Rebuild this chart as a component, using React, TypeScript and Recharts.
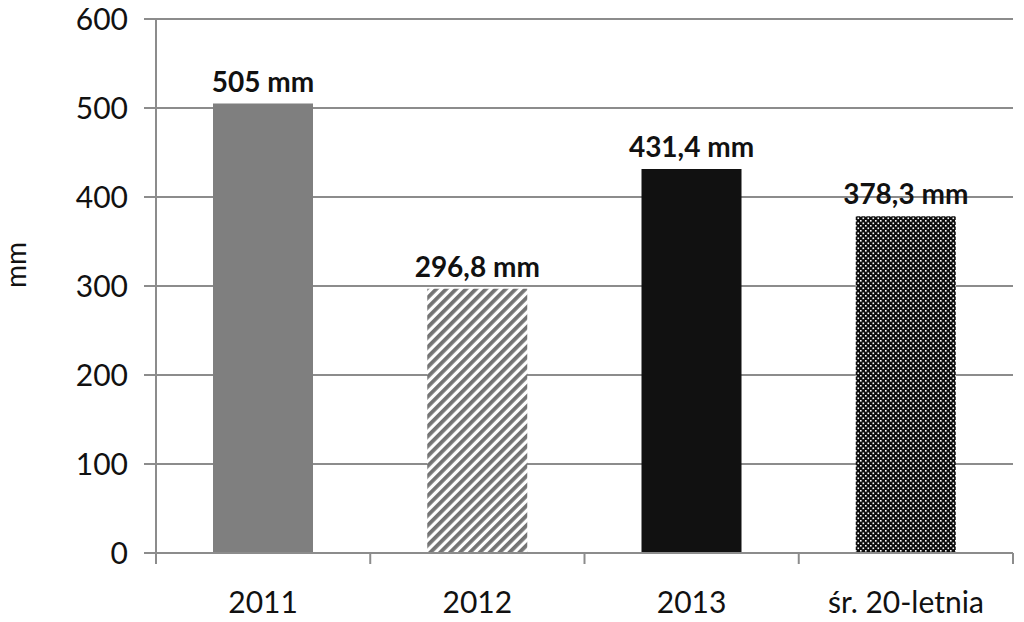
import React from 'react';
import { BarChart, Bar, XAxis, YAxis, CartesianGrid, Cell, LabelList } from 'recharts';

// Data
const categories = ['2011', '2012', '2013', 'śr. 20-letnia'];
const rainfall = [505, 296.8, 431.4, 378.3];
const yTicks = [0, 100, 200, 300, 400, 500, 600];

const barFills = ['#7f7f7f', 'url(#stripes)', '#111111', 'url(#dots)'];

const chartData = categories.map((name, i) => ({ name, value: rainfall[i] }));

const FONT = 'Lato, "Open Sans", sans-serif';
const AXIS = '#8c8c8c';

const formatLabel = (v: any) => `${String(v).replace('.', ',')} mm`;

// x tick: label centred on the band, tick marks on band boundaries
const XTick = (props: any) => {
    const { x, y, payload, width, visibleTicksCount } = props;
    const band = width / (visibleTicksCount || categories.length);
    const top = y - 8;
    return (
        <g>
            <line x1={x - band / 2} y1={top} x2={x - band / 2} y2={top + 11} stroke={AXIS} strokeWidth={2} />
            {payload.index === categories.length - 1 && (
                <line x1={x + band / 2} y1={top} x2={x + band / 2} y2={top + 11} stroke={AXIS} strokeWidth={2} />
            )}
            <text x={x} y={top + 60} textAnchor="middle" fill="#111" fontSize={30} fontFamily={FONT}>
                {payload.value}
            </text>
        </g>
    );
};

// rotated "mm" unit label on the left of the y axis
const YLabel = (props: any) => {
    const vb = props.viewBox || { x: 0, y: 0, height: 0 };
    const cx = vb.x + 26;
    const cy = vb.y + vb.height / 2 - 21;
    return (
        <text
            x={cx}
            y={cy}
            transform={`rotate(-90, ${cx}, ${cy})`}
            textAnchor="middle"
            fill="#111"
            fontSize={28}
            fontFamily={FONT}
        >
            mm
        </text>
    );
};

const App = () => {
    return (
        <div style={{ position: 'absolute', left: 0, top: 0, background: '#fff' }}>
            <svg width={0} height={0} style={{ position: 'absolute' }}>
                <defs>
                    <pattern id="stripes" width={7} height={7} patternUnits="userSpaceOnUse" patternTransform="rotate(45)">
                        <rect width={7} height={7} fill="#ffffff" />
                        <rect width={3.8} height={7} fill="#737373" />
                    </pattern>
                    <pattern id="dots" width={5} height={5} patternUnits="userSpaceOnUse">
                        <rect width={5} height={5} fill="#0d0d0d" />
                        <rect x={0} y={0} width={1.6} height={1.6} fill="#ffffff" />
                        <rect x={2.5} y={2.5} width={1.6} height={1.6} fill="#ffffff" />
                    </pattern>
                </defs>
            </svg>
            <BarChart
                width={1024}
                height={622}
                data={chartData}
                margin={{ top: 19, right: 11, left: 0, bottom: 0 }}
                barSize={100}
            >
                <CartesianGrid vertical={false} stroke={AXIS} strokeWidth={2} />
                <XAxis
                    dataKey="name"
                    axisLine={{ stroke: AXIS, strokeWidth: 2 }}
                    tickLine={false}
                    tick={<XTick />}
                    interval={0}
                    height={69}
                />
                <YAxis
                    width={156}
                    domain={[0, 600]}
                    ticks={yTicks}
                    interval={0}
                    axisLine={{ stroke: AXIS, strokeWidth: 2 }}
                    tickLine={{ stroke: AXIS, strokeWidth: 2 }}
                    tickSize={12}
                    tickMargin={16}
                    tick={{ fill: '#111', fontSize: 30, fontFamily: FONT }}
                    label={<YLabel />}
                />
                <Bar dataKey="value" isAnimationActive={false}>
                    {chartData.map((d, i) => (
                        <Cell key={d.name} fill={barFills[i]} />
                    ))}
                    <LabelList
                        dataKey="value"
                        position="top"
                        offset={12}
                        formatter={formatLabel}
                        style={{ fill: '#111', fontSize: 28, fontWeight: 700, fontFamily: FONT }}
                    />
                </Bar>
            </BarChart>
        </div>
    );
};

export default App;
